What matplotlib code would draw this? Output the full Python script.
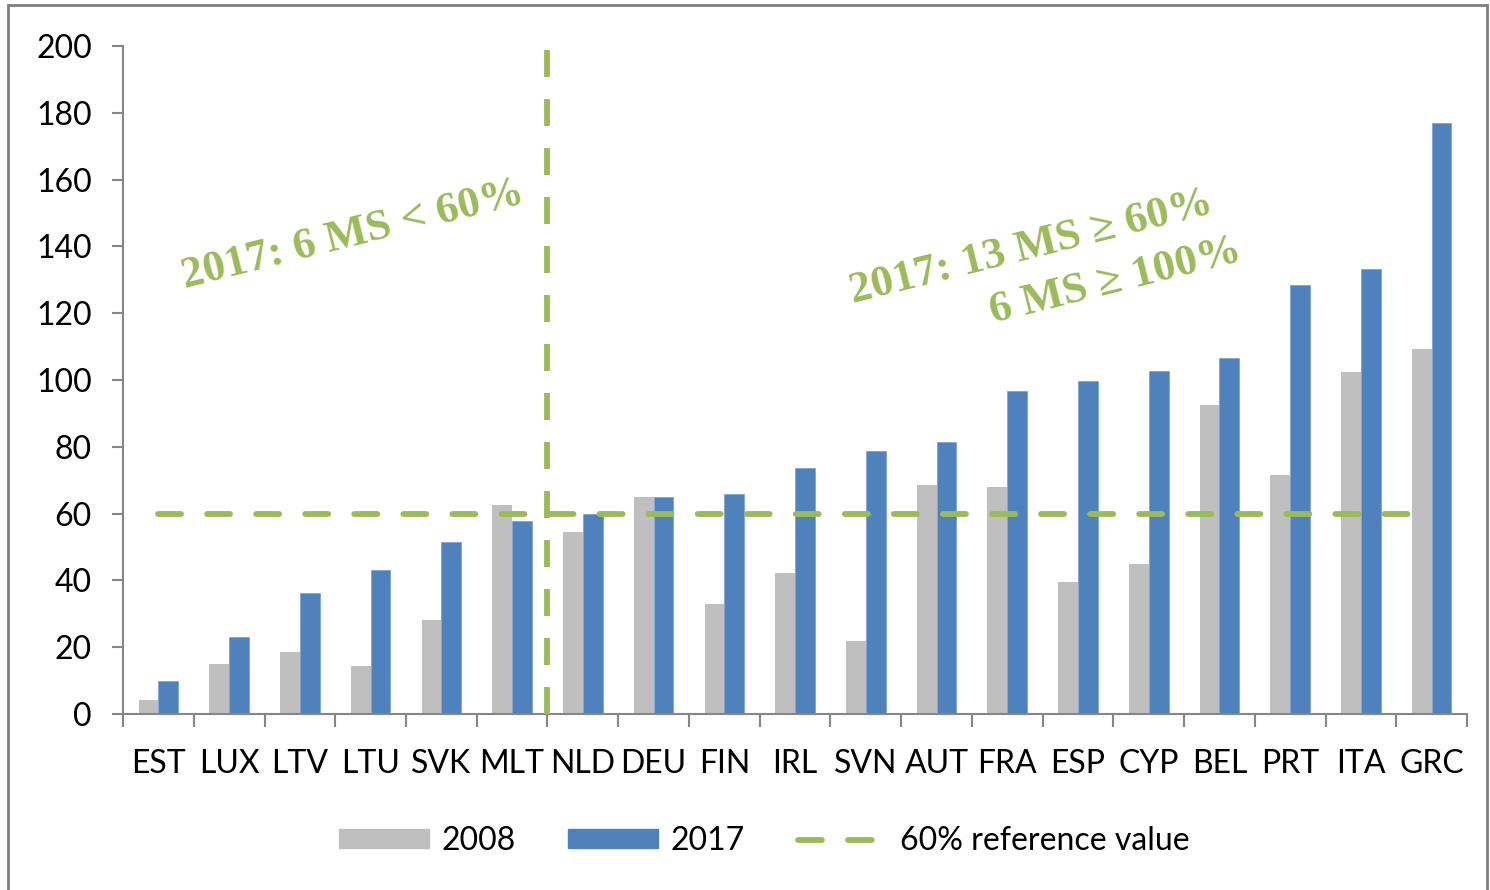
import numpy as np
import matplotlib.pyplot as plt
from matplotlib.patches import Rectangle
from matplotlib.lines import Line2D
from matplotlib.patches import Patch

# Data
countries = ['EST', 'LUX', 'LTV', 'LTU', 'SVK', 'MLT', 'NLD', 'DEU', 'FIN', 'IRL',
             'SVN', 'AUT', 'FRA', 'ESP', 'CYP', 'BEL', 'PRT', 'ITA', 'GRC']
debt_2008 = [4.3, 15.0, 18.5, 14.5, 28.0, 62.5, 54.5, 65.0, 32.8, 42.3,
             21.8, 68.5, 68.0, 39.5, 44.8, 92.5, 71.5, 102.5, 109.4]
debt_2017 = [10.0, 23.0, 36.3, 43.0, 51.5, 57.8, 59.8, 65.0, 65.8, 73.6,
             78.7, 81.4, 96.7, 99.7, 102.7, 106.6, 128.4, 133.2, 176.9]
reference = 60
labels = ['2008', '2017', '60% reference value']

gray = '#BFBFBF'
blue = '#4F81BD'
green = '#9BBB59'

plt.rcParams['font.family'] = ['Lato', 'DejaVu Sans']

fig = plt.figure(figsize=(14.9, 8.9), dpi=100)
ax = fig.add_axes([0.0826, 0.1978, 0.902, 0.7505])

x = np.arange(len(countries))
w = 0.28
ax.bar(x - w / 2, debt_2008, width=w, color=gray, zorder=2)
ax.bar(x + w / 2, debt_2017, width=w, color=blue, edgecolor='#7EA3D3',
       linewidth=0.6, zorder=2)

# 60% reference line and the split line
ax.plot([0, 17.9], [reference, reference], color=green, lw=4.2,
        dashes=(3.95, 4.46), dash_capstyle='round', zorder=3)
ax.plot([5.5, 5.5], [0, 200], color=green, lw=4.2, dashes=(4.63, 3.77),
        dash_capstyle='butt', zorder=3)

ax.set_xlim(-0.5, 18.5)
ax.set_ylim(0, 200)
ax.set_yticks(np.arange(0, 201, 20))
ax.set_xticks(x)
ax.set_xticklabels(countries)
ax.set_xticks(np.arange(-0.5, 19, 1), minor=True)
ax.tick_params(axis='x', which='major', length=0, pad=25, labelsize=23)
ax.tick_params(axis='x', which='minor', length=9, width=1.5, color='#868686')
ax.tick_params(axis='y', length=8, width=1.5, color='#868686', pad=14.5, labelsize=23)

for s in ['top', 'right']:
    ax.spines[s].set_visible(False)
for s in ['left', 'bottom']:
    ax.spines[s].set_color('#868686')
    ax.spines[s].set_linewidth(1.5)

# Annotations
note_style = dict(rotation=14, rotation_mode='anchor', ha='left', va='baseline',
                  color=green, fontsize=32, fontweight='bold',
                  family='Liberation Serif')
ax.text(0.38, 127.5, '2017: 6 MS < 60%', **note_style)
ax.text(9.82, 123, '2017: 13 MS \u2265 60%', **note_style)
ax.text(11.8, 117, '6 MS \u2265 100%', **note_style)

handles = [Patch(color=gray), Patch(color=blue),
           Line2D([0], [0], color=green, lw=4.2, dashes=(4.1, 4.46),
                  dash_capstyle='round')]
fig.legend(handles, labels, loc='center', bbox_to_anchor=(0.513, 0.055),
           ncol=3, frameon=False, fontsize=23, handlelength=2.8,
           handleheight=0.55, handletextpad=0.4, columnspacing=1.65)

# Outer border
fig.add_artist(Rectangle((8 / 1490, -0.02), 1479 / 1490, 1 - 5 / 890 + 0.02,
                         transform=fig.transFigure, fill=False,
                         edgecolor='#7F7F7F', linewidth=2))

plt.savefig('out.png', dpi=100)
